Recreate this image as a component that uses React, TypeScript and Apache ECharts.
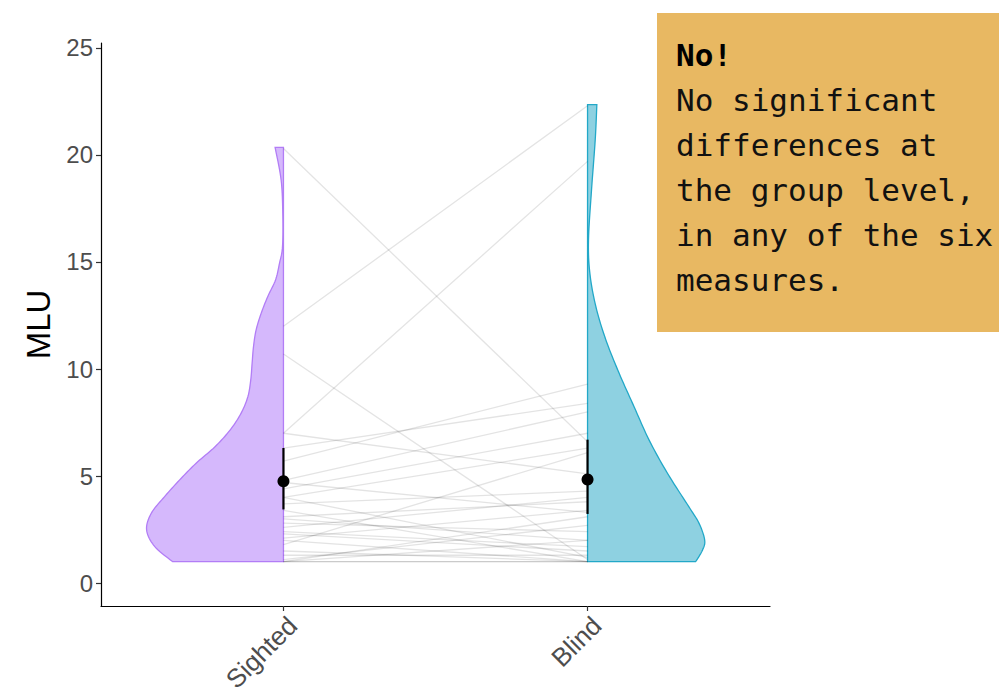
import React, { useEffect, useRef } from "react";
import * as echarts from "echarts";

// Groups on the x axis (positions 1 and 2)
const groups = ["Sighted", "Blind"];
const yTicks = [0, 5, 10, 15, 20, 25];

// Per-participant MLU; index i is the same participant in both arrays
const sightedMLU = [20.3, 12.0, 7.0, 10.7, 7.0, 6.3, 5.7, 4.8, 4.4, 4.0, 3.7, 3.4, 3.1, 2.8, 2.6, 2.4, 2.1, 1.8, 1.3, 1.1, 1.0, 1.0, 1.5, 2.0, 3.0, 4.0, 4.7, 2.3, 1.0, 1.0];
const blindMLU = [6.6, 22.3, 19.7, 1.1, 5.1, 8.4, 9.3, 8.0, 7.0, 6.3, 4.3, 1.0, 3.8, 2.4, 4.0, 1.7, 3.4, 6.1, 1.3, 2.7, 3.1, 2.0, 1.0, 1.0, 2.0, 1.2, 3.3, 1.5, 1.0, 1.0];

// Kernel density profiles (MLU level -> relative density)
const sightedDensityMLU = [1.0, 1.7, 2.48, 3.26, 4.03, 4.81, 5.59, 6.37, 7.15, 7.93, 8.71, 9.49, 10.27, 11.04, 11.82, 12.6, 13.38, 14.16, 14.94, 15.72, 17.28, 18.83, 20.35];
const sightedDensity = [0.81, 0.94, 1.0, 0.966, 0.87, 0.76, 0.64, 0.5, 0.39, 0.31, 0.26, 0.239, 0.229, 0.219, 0.2, 0.163, 0.115, 0.058, 0.029, 0.007, 0.005, 0.017, 0.061];
const blindDensityMLU = [1.0, 1.54, 2.01, 2.79, 3.57, 5.13, 6.68, 8.24, 9.8, 11.36, 12.91, 14.47, 16.03, 18.36, 20.7, 22.35];
const blindDensity = [0.79, 0.84, 0.856, 0.815, 0.74, 0.584, 0.45, 0.34, 0.231, 0.134, 0.061, 0.017, 0.007, 0.029, 0.056, 0.068];

// Group means with interval bounds
const groupMean = [4.76, 4.84];
const groupLower = [3.44, 3.23];
const groupUpper = [6.31, 6.7];

const noteTitle = "No!";
const noteLines = ["No significant", "differences at", "the group level,", "in any of the six", "measures."];

const violinFill = ["#D5B8FC", "#8ED1E1"];
const violinStroke = ["#B27DF6", "#22A8C8"];
const maxHalfWidth = 0.45;

// Catmull-Rom smoothing through pixel points
function smoothPoints(pts: number[][], steps: number): number[][] {
  const out: number[][] = [];
  for (let i = 0; i < pts.length - 1; i++) {
    const p0 = pts[Math.max(0, i - 1)];
    const p1 = pts[i];
    const p2 = pts[i + 1];
    const p3 = pts[Math.min(pts.length - 1, i + 2)];
    for (let s = 0; s < steps; s++) {
      const t = s / steps;
      const t2 = t * t;
      const t3 = t2 * t;
      const f = (a: number, b: number, c: number, d: number) =>
        0.5 * (2 * b + (-a + c) * t + (2 * a - 5 * b + 4 * c - d) * t2 + (-a + 3 * b - 3 * c + d) * t3);
      out.push([f(p0[0], p1[0], p2[0], p3[0]), f(p0[1], p1[1], p2[1], p3[1])]);
    }
  }
  out.push(pts[pts.length - 1]);
  return out;
}

export default function App() {
  const ref = useRef<HTMLDivElement>(null);

  useEffect(() => {
    document.body.style.margin = "0";
    if (!ref.current) return;
    const chart = echarts.init(ref.current, null, { renderer: "svg" });

    const profiles = [
      { mlu: sightedDensityMLU, dens: sightedDensity, side: -1 },
      { mlu: blindDensityMLU, dens: blindDensity, side: 1 },
    ];

    const sans = "'Liberation Sans', Arial, Helvetica, sans-serif";

    const option: any = {
      animation: false,
      grid: { left: 101, right: 229, top: 43, bottom: 83, containLabel: false, outerBoundsMode: "none" },
      xAxis: {
        type: "value",
        min: 0.4,
        max: 2.6,
        splitLine: { show: false },
        axisLine: { show: true, onZero: false, lineStyle: { color: "#000", width: 1.2 } },
        axisTick: { show: true, customValues: [1, 2], length: 5, lineStyle: { color: "#333", width: 1.2 } },
        axisLabel: {
          customValues: [1, 2],
          formatter: (v: number) => groups[Math.round(v) - 1],
          rotate: 45,
          align: "right",
          verticalAlign: "top",
          fontSize: 26,
          color: "#4D4D4D",
          fontFamily: sans,
          margin: 6,
        },
      },
      yAxis: {
        type: "value",
        min: -1.07,
        max: 25.23,
        name: "MLU",
        nameLocation: "middle",
        nameRotate: 90,
        nameGap: 43,
        nameTextStyle: { fontSize: 33, color: "#000", fontFamily: sans },
        splitLine: { show: false },
        axisLine: { show: true, onZero: false, lineStyle: { color: "#000", width: 1.2 } },
        axisTick: { show: true, customValues: yTicks, length: 5, lineStyle: { color: "#333", width: 1.2 } },
        axisLabel: {
          customValues: yTicks,
          fontSize: 24,
          color: "#4D4D4D",
          fontFamily: sans,
          margin: 8,
        },
      },
      series: [
        {
          type: "custom",
          name: "violins",
          coordinateSystem: "cartesian2d",
          data: [[1], [2]],
          encode: { x: 0 },
          silent: true,
          z: 2,
          renderItem: (params: any, api: any) => {
            const gi = params.dataIndex;
            const cx = gi + 1;
            const prof = profiles[gi];
            const edge = prof.mlu.map((m, k) => api.coord([cx + prof.side * prof.dens[k] * maxHalfWidth, m]));
            const curve = smoothPoints(edge, 10);
            const bottom = api.coord([cx, prof.mlu[0]]);
            const top = api.coord([cx, prof.mlu[prof.mlu.length - 1]]);
            const points = [bottom, ...curve, top];
            return {
              type: "polygon",
              shape: { points },
              style: { fill: violinFill[gi], stroke: violinStroke[gi], lineWidth: 1.3 },
            };
          },
        },
        {
          type: "custom",
          name: "pairs",
          coordinateSystem: "cartesian2d",
          data: sightedMLU.map((s, i) => [s, blindMLU[i]]),
          encode: { y: [0, 1] },
          silent: true,
          z: 3,
          renderItem: (params: any, api: any) => {
            const a = api.coord([1, api.value(0)]);
            const b = api.coord([2, api.value(1)]);
            return {
              type: "line",
              shape: { x1: a[0], y1: a[1], x2: b[0], y2: b[1] },
              style: { stroke: "rgba(0,0,0,0.11)", lineWidth: 1.3 },
            };
          },
        },
        {
          type: "custom",
          name: "intervals",
          coordinateSystem: "cartesian2d",
          data: groups.map((g, i) => [i + 1, groupLower[i], groupUpper[i]]),
          encode: { x: 0, y: [1, 2] },
          silent: true,
          z: 4,
          renderItem: (params: any, api: any) => {
            const lo = api.coord([api.value(0), api.value(1)]);
            const hi = api.coord([api.value(0), api.value(2)]);
            return {
              type: "line",
              shape: { x1: lo[0], y1: lo[1], x2: hi[0], y2: hi[1] },
              style: { stroke: "#000", lineWidth: 2.2 },
            };
          },
        },
        {
          type: "scatter",
          name: "means",
          data: groups.map((g, i) => [i + 1, groupMean[i]]),
          symbol: "circle",
          symbolSize: 12,
          itemStyle: { color: "#000", opacity: 1 },
          silent: true,
          z: 5,
        },
      ],
      graphic: [
        {
          type: "rect",
          shape: { x: 657, y: 13, width: 350, height: 319 },
          style: { fill: "#E8B862" },
          z: 10,
        },
        {
          type: "text",
          x: 676,
          y: 32,
          z: 11,
          style: {
            text: `{b|${noteTitle}}\n` + noteLines.join("\n"),
            fontFamily: "'DejaVu Sans Mono', monospace",
            fontSize: 31,
            lineHeight: 45,
            fill: "#111",
            verticalAlign: "top",
            rich: {
              b: {
                fontFamily: "'DejaVu Sans Mono', monospace",
                fontSize: 31,
                fontWeight: "bold",
                lineHeight: 45,
                fill: "#000",
              },
            },
          },
        },
      ],
    };

    chart.setOption(option);
    return () => chart.dispose();
  }, []);

  return <div ref={ref} style={{ width: 999, height: 689 }} />;
}
